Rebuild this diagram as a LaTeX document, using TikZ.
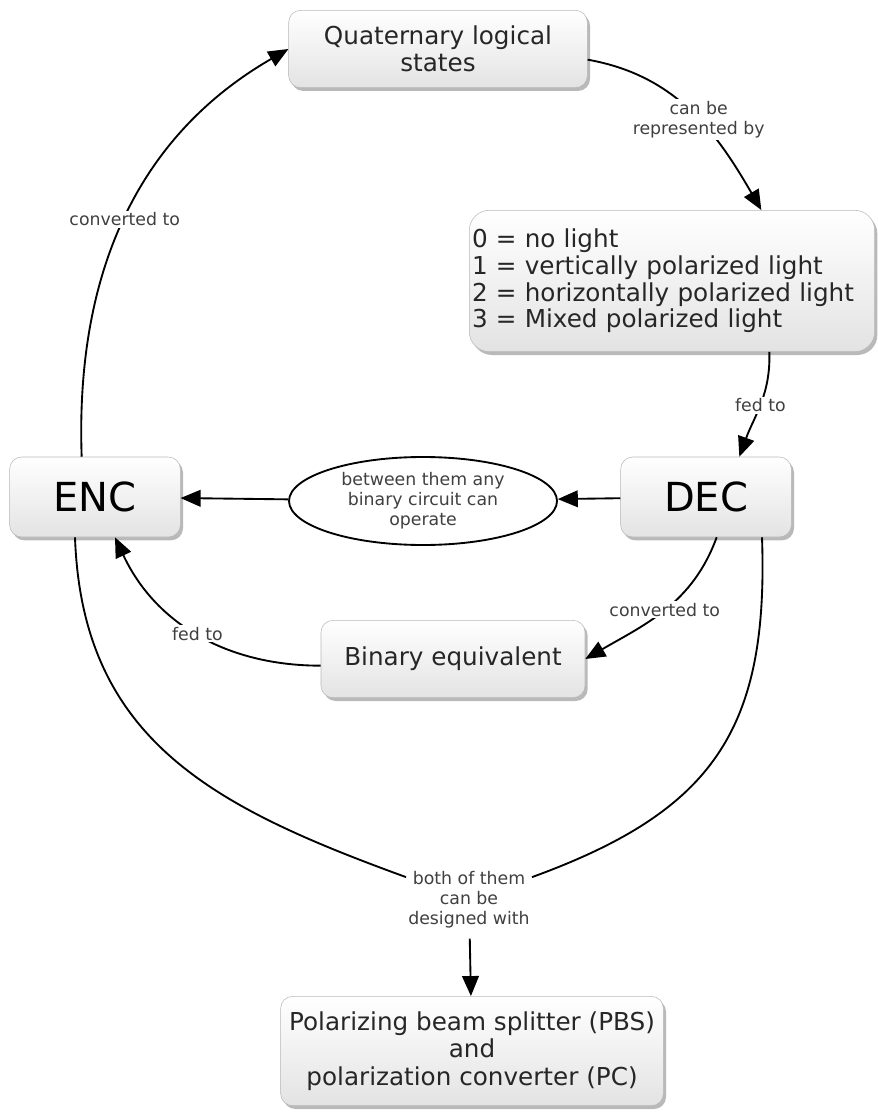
\documentclass[tikz,border=0pt]{standalone}
\usepackage{fontspec}
\setmainfont{DejaVu Sans}
\usepackage{tikz}
\usetikzlibrary{arrows.meta}
\usetikzlibrary{shapes.geometric,shadows}

\begin{document}
\begin{tikzpicture}[x=0.75pt, y=0.75pt,
    box/.style={draw=gray!55, rounded corners=9pt, top color=white, bottom color=gray!22,
      drop shadow={shadow xshift=2pt, shadow yshift=-2.5pt, opacity=0.55},
      align=center, text=black!85, font=\fontsize{18.5}{20.5}\selectfont},
    big/.style={box, font=\fontsize{30}{34}\selectfont, text=black, minimum width=128pt, minimum height=60pt},
    lbl/.style={fill=white, text=black!75, align=center, inner sep=1.5pt, font=\fontsize{13}{15}\selectfont},
    conn/.style={line width=1.4pt},
    arr/.style={conn, -{Triangle[length=15pt, width=12.5pt]}}]
  \useasboundingbox (0,0) rectangle (877,-1112);
  \node[box, minimum width=224pt, minimum height=58pt] (quat) at (438,-49) {Quaternary logical\\states};
  \node[box, rounded corners=15pt, text width=300pt, inner xsep=2pt, align=left, minimum height=106pt,
    font=\fontsize{18.5}{20}\selectfont] (lights) at (672,-281)
    {0 = no light\\1 = vertically polarized light\\2 = horizontally polarized light\\3 = Mixed polarized light};
  \node[big] (enc) at (95,-497) {ENC};
  \node[big] (dec) at (706,-497) {DEC};
  \node[ellipse, draw, conn, fill=white, minimum width=201pt, minimum height=66pt, inner sep=0pt,
    align=center, text=black!75, font=\fontsize{13}{15}\selectfont] (ell) at (423,-501)
    {between them any\\binary circuit can\\operate};
  \node[box, minimum width=198pt, minimum height=58pt] (bin) at (453,-659) {Binary equivalent};
  \node[lbl] (both) at (469,-900) {both of them\\can be\\designed with};
  \node[box, minimum width=287pt, minimum height=82pt] (pbs) at (472,-1051)
    {Polarizing beam splitter (PBS)\\and\\polarization converter (PC)};

  \draw[arr] ([yshift=-8pt]quat.east) to[out=-10, in=120] node[lbl, pos=0.55] {can be\\represented by} ([xshift=67pt]lights.north);
  \draw[arr] ([xshift=-10pt]enc.north) to[out=92, in=210] node[lbl] {converted to} (quat.west);
  \draw[arr] ([xshift=73pt]lights.south) to[out=-88, in=70] node[lbl] {fed to} ([xshift=25pt]dec.north);
  \draw[arr] (dec) -- (ell);
  \draw[arr] (ell) -- (enc);
  \draw[arr] ([xshift=8pt]dec.south) to[out=-110, in=30] node[lbl] {converted to} (bin.east);
  \draw[arr] ([yshift=-5pt]bin.west) to[out=180, in=-65] node[lbl] {fed to} ([xshift=15pt]enc.south);
  \draw[conn] ([xshift=-15pt]enc.south) to[out=-88, in=160, looseness=1.1] (both);
  \draw[conn] ([xshift=42pt]dec.south) to[out=-88, in=20, looseness=1.2] (both);
  \draw[arr, shorten <=6pt] (both) -- (pbs);
\end{tikzpicture}
\end{document}
